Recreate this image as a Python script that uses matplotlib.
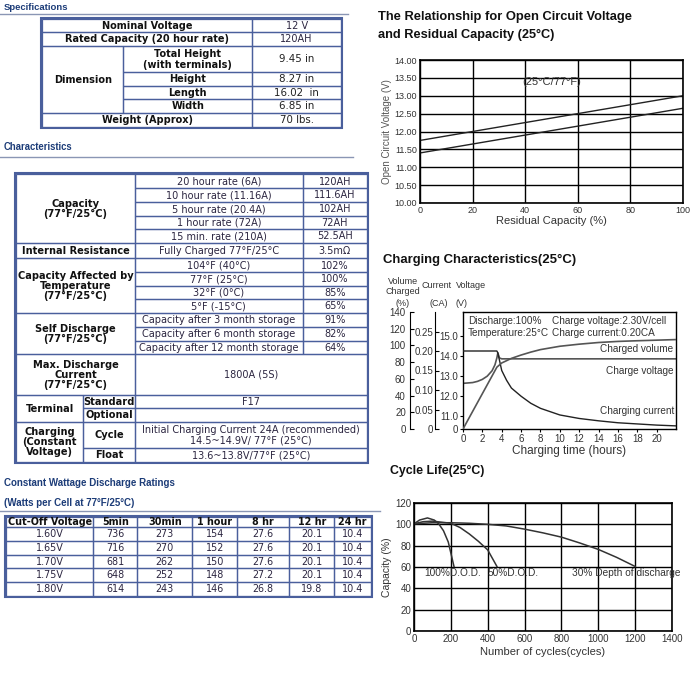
import numpy as np
import matplotlib
matplotlib.use("Agg")
import matplotlib.pyplot as plt
from matplotlib.patches import Rectangle
from matplotlib import font_manager as fm

# ---------------- data ----------------
spec_labels = ["Nominal Voltage", "Rated Capacity (20 hour rate)", "Dimension",
               "Total Height\n(with terminals)", "Height", "Length", "Width", "Weight (Approx)"]
spec_values = ["12 V", "120AH", "9.45 in", "8.27 in", "16.02  in", "6.85 in", "70 lbs."]

capacity_rates = ["20 hour rate (6A)", "10 hour rate (11.16A)", "5 hour rate (20.4A)",
                  "1 hour rate (72A)", "15 min. rate (210A)"]
capacity_values = ["120AH", "111.6AH", "102AH", "72AH", "52.5AH"]
resistance_label = "Fully Charged 77°F/25°C"
resistance_value = "3.5mΩ"
temp_conditions = ["104°F (40°C)", "77°F (25°C)", "32°F (0°C)", "5°F (-15°C)"]
temp_values = ["102%", "100%", "85%", "65%"]
self_discharge_labels = ["Capacity after 3 month storage", "Capacity after 6 month storage",
                         "Capacity after 12 month storage"]
self_discharge_values = ["91%", "82%", "64%"]
max_discharge_value = "1800A (5S)"
terminal_standard = "F17"
terminal_optional = ""
charging_cycle = "Initial Charging Current 24A (recommended)\n14.5~14.9V/ 77°F (25°C)"
charging_float = "13.6~13.8V/77°F (25°C)"

cutoff_voltages = ["1.60V", "1.65V", "1.70V", "1.75V", "1.80V"]
discharge_durations = ["5min", "30min", "1 hour", "8 hr", "12 hr", "24 hr"]
watts_per_cell = [
    [736, 273, 154, 27.6, 20.1, 10.4],
    [716, 270, 152, 27.6, 20.1, 10.4],
    [681, 262, 150, 27.6, 20.1, 10.4],
    [648, 252, 148, 27.2, 20.1, 10.4],
    [614, 243, 146, 26.8, 19.8, 10.4],
]

# open circuit voltage vs residual capacity
ocv_capacity = [0, 100]
ocv_upper = [11.75, 13.0]
ocv_lower = [11.4, 12.65]

# charging characteristics
volt_time = [0, 1, 1.5, 2, 2.5, 3, 3.3, 3.5, 3.6, 3.75, 4, 22]
volt_value = [12.62, 12.66, 12.72, 12.82, 12.98, 13.25, 13.55, 13.9, 14.15, 13.9, 13.85, 13.85]
curr_time = [0, 3.5, 3.6, 4, 4.5, 5, 6, 7, 8, 10, 12, 14, 16, 18, 20, 22]
curr_value = [0.20, 0.20, 0.195, 0.15, 0.125, 0.105, 0.084, 0.066, 0.053, 0.036, 0.027,
              0.021, 0.016, 0.013, 0.010, 0.008]
vol_time = [0, 3.5, 4, 5, 6, 7, 8, 10, 12, 14, 16, 18, 20, 22]
vol_value = [0, 74, 79, 84.5, 88.5, 92, 95, 99, 101.5, 103.5, 104.8, 105.6, 106.3, 107]

# cycle life
dod100_cycles = [0, 30, 73, 110, 134, 160, 186, 217]
dod100_capacity = [100.5, 104, 106, 104, 100.5, 94, 83.4, 60.5]
dod50_cycles = [0, 50, 100, 150, 200, 250, 300, 350, 400, 450]
dod50_capacity = [100.5, 102.5, 103, 102, 101, 97, 91, 84, 76, 60.5]
dod30_cycles = [0, 100, 200, 300, 400, 500, 600, 700, 800, 900, 1000, 1100, 1200]
dod30_capacity = [100.5, 101.5, 101.5, 101, 100, 98.5, 95.5, 92, 88, 82.5, 76.5, 69, 60.5]


# ---------------- helpers ----------------
def has_font(name):
    try:
        fm.findfont(fm.FontProperties(family=name), fallback_to_default=False)
        return True
    except Exception:
        return False


CH = "Liberation Sans" if has_font("Liberation Sans") else "DejaVu Sans"
NARROW = "Liberation Sans Narrow" if has_font("Liberation Sans Narrow") else CH
TF = "DejaVu Sans"
plt.rcParams["font.family"] = [CH, "DejaVu Sans"]

W, H = 690, 684
fig = plt.figure(figsize=(W / 100, H / 100), dpi=100)
fig.patch.set_facecolor("white")
renderer = fig.canvas.get_renderer()


def px_rect(x0, y0, x1, y1):
    return [x0 / W, 1 - y1 / H, (x1 - x0) / W, (y1 - y0) / H]


def fit_text(ax, x, y, s, width, fs0=10, **kw):
    t = ax.text(x, y, s, fontsize=fs0, **kw)
    bb = t.get_window_extent(renderer=renderer)
    t.set_fontsize(fs0 * width / bb.width)
    return t


TXT = "#333333"

# ---------------- chart 1: OCV ----------------
ax1 = fig.add_axes(px_rect(420, 60, 683, 203))
ax1.plot(ocv_capacity, ocv_upper, color="#222222", lw=1)
ax1.plot(ocv_capacity, ocv_lower, color="#222222", lw=1)
ax1.set_xlim(0, 100)
ax1.set_ylim(10, 14)
ax1.set_xticks(range(0, 101, 20))
ax1.set_yticks(np.arange(10, 14.01, 0.5))
ax1.yaxis.set_major_formatter("{x:.2f}")
ax1.grid(True, color="black", lw=1)
ax1.tick_params(length=0, labelsize=6.5, pad=2, labelcolor=TXT)
for s in ax1.spines.values():
    s.set_linewidth(1.2)
ax1.set_xlabel("Residual Capacity (%)", fontsize=8, labelpad=1, color=TXT)
ax1.set_ylabel("Open Circuit Voltage (V)", fontsize=7, labelpad=2, color="#555555")
ax1.text(50, 13.38, "(25°C/77°F)", ha="center", va="center", fontsize=8, color=TXT)

# ---------------- chart 2: charging ----------------
V_LO, V_HI = 10.33, 16.2
ax2 = fig.add_axes(px_rect(463, 312, 676, 429))
ax2.plot(volt_time, volt_value, color="#555555", lw=1.2)
ax2.set_xlim(0, 22)
ax2.set_ylim(V_LO, V_HI)
ax2.set_xticks(range(0, 21, 2))
ax2.set_yticks([V_LO, 11, 12, 13, 14, 15])
ax2.set_yticklabels(["0", "11.0", "12.0", "13.0", "14.0", "15.0"])
ax2.tick_params(length=2, labelsize=7, pad=1.5, labelcolor=TXT)
for s in ax2.spines.values():
    s.set_linewidth(1)
ax2.set_xlabel("Charging time (hours)", fontsize=8.5, labelpad=1, color=TXT)

axc = ax2.twinx()
axc.plot(curr_time, curr_value, color="#222222", lw=1)
axc.set_ylim(0, 0.30)
axc.set_yticks([0, 0.05, 0.10, 0.15, 0.20, 0.25])
axc.set_yticklabels(["0", "0.05", "0.10", "0.15", "0.20", "0.25"])
axc.yaxis.tick_left()
for k in ["right", "top", "bottom"]:
    axc.spines[k].set_visible(False)
axc.spines["left"].set_position(("outward", 28 * 0.72))
axc.tick_params(length=3, direction="in", labelsize=7, pad=1.5, labelcolor=TXT)

axv = ax2.twinx()
axv.plot(vol_time, vol_value, color="#555555", lw=1.2)
axv.set_ylim(0, 140)
axv.set_yticks(range(0, 141, 20))
axv.yaxis.tick_left()
for k in ["right", "top", "bottom"]:
    axv.spines[k].set_visible(False)
axv.spines["left"].set_position(("outward", 53 * 0.72))
axv.tick_params(length=3, direction="in", labelsize=7, pad=3, labelcolor=TXT)

# ---------------- chart 3: cycle life ----------------
ax3 = fig.add_axes(px_rect(414, 503, 672, 631))
ax3.plot(dod100_cycles, dod100_capacity, color="#333333", lw=1.1)
ax3.plot(dod50_cycles, dod50_capacity, color="#333333", lw=1.1)
ax3.plot(dod30_cycles, dod30_capacity, color="#333333", lw=1.1)
ax3.set_xlim(0, 1400)
ax3.set_ylim(0, 120)
ax3.set_xticks(range(0, 1401, 200))
ax3.set_yticks(range(0, 121, 20))
ax3.grid(True, color="black", lw=1)
ax3.tick_params(length=0, labelsize=7, pad=2, labelcolor=TXT)
for s in ax3.spines.values():
    s.set_linewidth(1.2)
ax3.set_xlabel("Number of cycles(cycles)", fontsize=8, labelpad=2, color=TXT)
ax3.set_ylabel("Capacity (%)", fontsize=7.5, labelpad=2, color=TXT)
ax3.text(54, 54, "100%D.O.D.", ha="left", va="center", fontsize=7.3, color=TXT)
ax3.text(401, 54, "50%D.O.D.", ha="left", va="center", fontsize=7.3, color=TXT)
ax3.text(856, 54, "30% Depth of discharge", ha="left", va="center", fontsize=7.3, color=TXT)

# ---------------- overlay (tables, titles) ----------------
ov = fig.add_axes([0, 0, 1, 1], zorder=10)
ov.set_xlim(0, W)
ov.set_ylim(H, 0)
ov.axis("off")
ov.patch.set_alpha(0)

# chart titles
for (x, y, s, w) in [(378, 17, "The Relationship for Open Circuit Voltage", 254),
                     (378, 35, "and Residual Capacity (25°C)", 177),
                     (383, 260, "Charging Characteristics(25°C)", 195),
                     (390, 471, "Cycle Life(25°C)", 94)]:
    fit_text(ov, x, y, s, w, family=NARROW, weight="bold", va="center", ha="left",
             color="#111111")

# charging chart axis headers & annotations
hk = dict(fontsize=6.5, color=TXT, va="center")
ov.text(403, 286.5, "Volume\nCharged", ha="center", linespacing=1.0, **hk)
ov.text(403, 303, "(%)", ha="center", **hk)
ov.text(437, 286, "Current", ha="center", **hk)
ov.text(439, 303, "(CA)", ha="center", **hk)
ov.text(456, 285, "Voltage", ha="left", **hk)
ov.text(456, 303, "(V)", ha="left", **hk)
ak = dict(fontsize=7.2, color=TXT, va="center")
ov.text(468, 320.7, "Discharge:100%", ha="left", **ak)
ov.text(552.5, 320.7, "Charge voltage:2.30V/cell", ha="left", **ak)
ov.text(468, 332.7, "Temperature:25°C", ha="left", **ak)
ov.text(552.5, 332.7, "Charge current:0.20CA", ha="left", **ak)
ov.text(673, 348.5, "Charged volume", ha="right", **ak)
ov.text(606, 371.5, "Charge voltage", ha="left", **ak)
ov.text(674, 411.5, "Charging current", ha="right", **ak)

# section headers
HC = "#1c3c78"
fit_text(ov, 4, 7, "Specifications", 64, family=NARROW, weight="bold", va="center", color=HC)
ov.plot([0, 348], [13.5, 13.5], color="#8a96b4", lw=1)
fit_text(ov, 4, 147.5, "Characteristics", 69, family=NARROW, weight="bold", va="center", color=HC)
ov.plot([0, 353], [156.7, 156.7], color="#8a96b4", lw=1)
fit_text(ov, 4, 483.5, "Constant Wattage Discharge Ratings", 172, family=NARROW,
         weight="bold", va="center", color=HC)
fit_text(ov, 4, 503.5, "(Watts per Cell at 77°F/25°C)", 131, family=NARROW,
         weight="bold", va="center", color=HC)
ov.plot([0, 380], [510.7, 510.7], color="#8a96b4", lw=1)

BORDER = "#4a5f9c"
LBL = "#111111"
VAL = "#2b2540"


def cell(x0, y0, x1, y1, text="", bold=False, fs=7.0, color=None):
    ov.add_patch(Rectangle((x0, y0), x1 - x0, y1 - y0, fill=False, ec=BORDER, lw=0.9))
    if text:
        ov.text((x0 + x1) / 2, (y0 + y1) / 2 + 0.3, text, ha="center", va="center",
                fontsize=fs, family=TF, weight="bold" if bold else "normal",
                color=color or (LBL if bold else VAL), linespacing=1.05)


def outer(x0, y0, x1, y1):
    ov.add_patch(Rectangle((x0 - 1, y0 - 1), x1 - x0 + 2, y1 - y0 + 2, fill=False,
                           ec=BORDER, lw=1.5))


# ---- table 1: specifications ----
tx = [42.3, 123.3, 252.3, 341]
ty = [19, 32.3, 46, 72.3, 85.7, 99.3, 112.7, 126.7]
FS1 = 7.0
outer(tx[0], ty[0], tx[3], ty[-1])
cell(tx[0], ty[0], tx[2], ty[1], spec_labels[0], True, FS1)
cell(tx[2], ty[0], tx[3], ty[1], spec_values[0], fs=FS1)
cell(tx[0], ty[1], tx[2], ty[2], spec_labels[1], True, FS1)
cell(tx[2], ty[1], tx[3], ty[2], spec_values[1], fs=FS1)
cell(tx[0], ty[2], tx[1], ty[6], spec_labels[2], True, FS1)
for i in range(4):
    cell(tx[1], ty[2 + i], tx[2], ty[3 + i], spec_labels[3 + i], True, FS1)
    cell(tx[2], ty[2 + i], tx[3], ty[3 + i], spec_values[2 + i], fs=FS1 + 0.4, color="#222222")
cell(tx[0], ty[6], tx[2], ty[7], spec_labels[7], True, FS1)
cell(tx[2], ty[6], tx[3], ty[7], spec_values[6], fs=FS1 + 0.4, color="#222222")

# ---- table 2: characteristics ----
cx = [16, 83.3, 135, 302.7, 367]
cy = [174.3, 188.3, 202, 215.7, 229.3, 243, 258.3, 272.3, 285.7, 299.3, 313,
      327.3, 341, 354.3, 395, 408.3, 421.7, 448.3, 461.7]
FS2 = 7.0
FB = 7.1
outer(cx[0], cy[0], cx[4], cy[-1])
cell(cx[0], cy[0], cx[2], cy[5], "Capacity\n(77°F/25°C)", True, FB)
for i in range(5):
    cell(cx[2], cy[i], cx[3], cy[i + 1], capacity_rates[i], fs=FS2)
    cell(cx[3], cy[i], cx[4], cy[i + 1], capacity_values[i], fs=FS2)
cell(cx[0], cy[5], cx[2], cy[6], "Internal Resistance", True, FB)
cell(cx[2], cy[5], cx[3], cy[6], resistance_label, fs=FS2)
cell(cx[3], cy[5], cx[4], cy[6], resistance_value, fs=FS2)
cell(cx[0], cy[6], cx[2], cy[10], "Capacity Affected by\nTemperature\n(77°F/25°C)", True, FB)
for i in range(4):
    cell(cx[2], cy[6 + i], cx[3], cy[7 + i], temp_conditions[i], fs=FS2)
    cell(cx[3], cy[6 + i], cx[4], cy[7 + i], temp_values[i], fs=FS2)
cell(cx[0], cy[10], cx[2], cy[13], "Self Discharge\n(77°F/25°C)", True, FB)
for i in range(3):
    cell(cx[2], cy[10 + i], cx[3], cy[11 + i], self_discharge_labels[i], fs=FS2)
    cell(cx[3], cy[10 + i], cx[4], cy[11 + i], self_discharge_values[i], fs=FS2)
cell(cx[0], cy[13], cx[2], cy[14], "Max. Discharge\nCurrent\n(77°F/25°C)", True, FB)
cell(cx[2], cy[13], cx[4], cy[14], max_discharge_value, fs=FS2)
cell(cx[0], cy[14], cx[1], cy[16], "Terminal", True, FB)
cell(cx[1], cy[14], cx[2], cy[15], "Standard", True, FB)
cell(cx[2], cy[14], cx[4], cy[15], terminal_standard, fs=FS2)
cell(cx[1], cy[15], cx[2], cy[16], "Optional", True, FB)
cell(cx[2], cy[15], cx[4], cy[16], terminal_optional, fs=FS2)
cell(cx[0], cy[16], cx[1], cy[18], "Charging\n(Constant\nVoltage)", True, FB)
cell(cx[1], cy[16], cx[2], cy[17], "Cycle", True, FB)
cell(cx[2], cy[16], cx[4], cy[17], charging_cycle, fs=FS2)
cell(cx[1], cy[17], cx[2], cy[18], "Float", True, FB)
cell(cx[2], cy[17], cx[4], cy[18], charging_float, fs=FS2)

# ---- table 3: constant wattage ----
dx = [6, 93.3, 137.3, 192.3, 237.3, 289.3, 334.3, 370.7]
dy = [516.7, 527.3, 541, 554.7, 568.3, 582, 595.7]
FS3 = 6.9
outer(dx[0], dy[0], dx[-1], dy[-1])
cell(dx[0], dy[0], dx[1], dy[1], "Cut-Off Voltage", True, FS3)
for j, d in enumerate(discharge_durations):
    cell(dx[j + 1], dy[0], dx[j + 2], dy[1], d, True, FS3)
for i, v in enumerate(cutoff_voltages):
    cell(dx[0], dy[i + 1], dx[1], dy[i + 2], v, fs=FS3)
    for j, w in enumerate(watts_per_cell[i]):
        cell(dx[j + 1], dy[i + 1], dx[j + 2], dy[i + 2], str(w), fs=FS3)

fig.savefig("out.png", dpi=100, facecolor="white")
